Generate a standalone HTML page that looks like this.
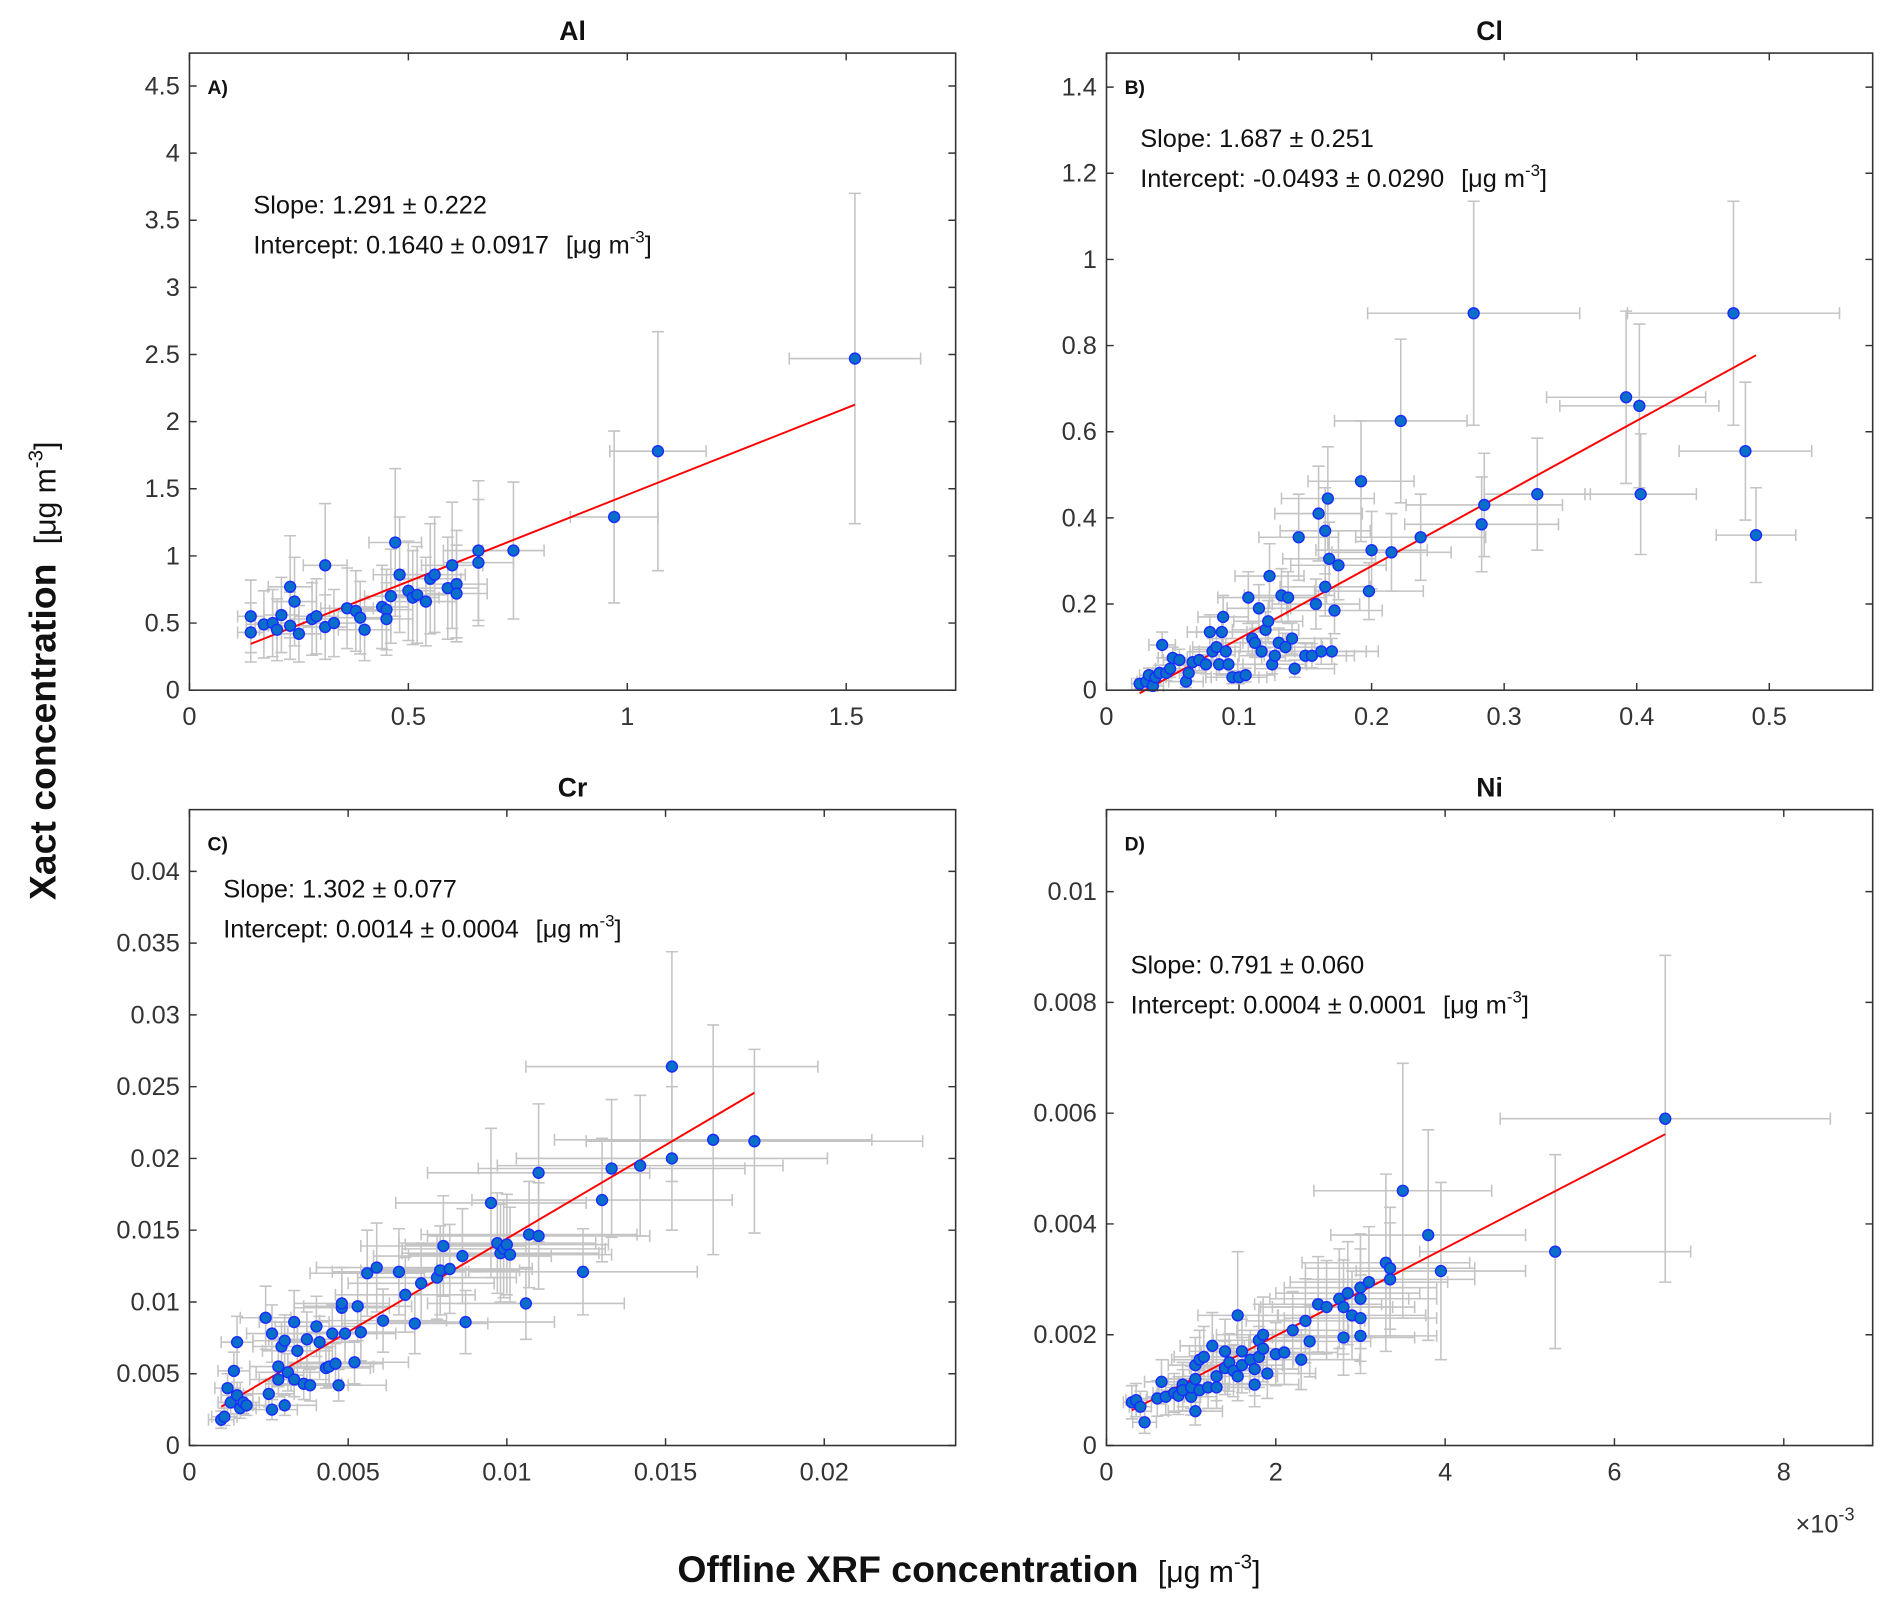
<!DOCTYPE html>
<html><head><meta charset="utf-8">
<style>
html,body{margin:0;padding:0;background:#fff;}
svg{display:block;}
text{font-family:"Liberation Sans",Arial,sans-serif;}
</style></head>
<body>
<svg id="fig" width="1892" height="1606" viewBox="0 0 1568 1331" xmlns="http://www.w3.org/2000/svg">
<rect width="1568" height="1331" fill="#fff"/>
<text transform="translate(46,556) rotate(-90)" text-anchor="middle" font-size="31" fill="#111"><tspan font-weight="bold">Xact concentration</tspan><tspan font-size="25" dx="16">[μg m</tspan><tspan font-size="17" dy="-11">-3</tspan><tspan font-size="25" dy="11">]</tspan></text>
<text x="803" y="1311" text-anchor="middle" font-size="31" fill="#111"><tspan font-weight="bold">Offline XRF concentration</tspan><tspan font-size="25" dx="16">[μg m</tspan><tspan font-size="17" dy="-11">-3</tspan><tspan font-size="25" dy="11">]</tspan></text>
<text x="1488" y="1270" font-size="21" fill="#333">×10<tspan font-size="15" dy="-10">-3</tspan></text>
</svg>
<script>
// Panel A (Al)
const alX=[0.14,0.14,0.17,0.19,0.20,0.21,0.23,0.23,0.24,0.25,0.28,0.29,0.31,0.31,0.33,0.36,0.38,0.39,0.40,0.44,0.45,0.45,0.46,0.47,0.48,0.50,0.51,0.52,0.54,0.55,0.56,0.59,0.60,0.61,0.61,0.66,0.66,0.74,0.97,1.07,1.52];
const alY=[0.55,0.43,0.49,0.50,0.45,0.56,0.48,0.77,0.66,0.42,0.53,0.55,0.93,0.47,0.50,0.61,0.59,0.54,0.45,0.62,0.60,0.53,0.70,1.10,0.86,0.74,0.69,0.71,0.66,0.83,0.86,0.76,0.93,0.79,0.72,1.04,0.95,1.04,1.29,1.78,2.47];
const alXe=[0.03,0.03,0.04,0.04,0.04,0.04,0.05,0.05,0.05,0.05,0.05,0.05,0.05,0.05,0.05,0.06,0.06,0.06,0.06,0.06,0.06,0.06,0.06,0.06,0.06,0.06,0.06,0.07,0.07,0.07,0.07,0.07,0.07,0.07,0.07,0.08,0.08,0.07,0.10,0.11,0.15];
const alYe=[0.27,0.22,0.25,0.25,0.23,0.28,0.25,0.38,0.33,0.21,0.27,0.28,0.46,0.24,0.25,0.30,0.30,0.27,0.23,0.31,0.30,0.27,0.35,0.55,0.43,0.37,0.35,0.36,0.33,0.41,0.43,0.38,0.47,0.40,0.36,0.52,0.47,0.51,0.64,0.89,1.23];
const alFit=[1.291,0.1640];
// Panel B (Cl)
const clX=[0.025,0.03,0.032,0.035,0.037,0.04,0.042,0.045,0.048,0.05,0.055,0.06,0.062,0.065,0.07,0.075,0.078,0.08,0.083,0.085,0.087,0.088,0.09,0.092,0.095,0.1,0.105,0.107,0.11,0.112,0.115,0.117,0.12,0.122,0.123,0.125,0.127,0.13,0.132,0.135,0.137,0.14,0.142,0.145,0.15,0.155,0.158,0.16,0.162,0.165,0.165,0.167,0.168,0.17,0.172,0.175,0.192,0.198,0.2,0.215,0.222,0.237,0.277,0.283,0.285,0.325,0.392,0.402,0.403,0.473,0.482,0.49];
const clY=[0.015,0.02,0.035,0.01,0.03,0.04,0.105,0.04,0.05,0.075,0.07,0.02,0.04,0.065,0.07,0.06,0.135,0.09,0.1,0.06,0.135,0.17,0.09,0.06,0.03,0.03,0.035,0.215,0.12,0.11,0.19,0.09,0.14,0.16,0.265,0.06,0.08,0.11,0.22,0.1,0.215,0.12,0.05,0.355,0.08,0.08,0.2,0.41,0.09,0.24,0.37,0.445,0.305,0.09,0.185,0.29,0.485,0.23,0.325,0.32,0.625,0.355,0.875,0.385,0.43,0.455,0.68,0.66,0.455,0.875,0.555,0.36];
const clXe=[0.006,0.007,0.007,0.008,0.008,0.009,0.01,0.01,0.011,0.011,0.012,0.013,0.013,0.014,0.015,0.016,0.017,0.017,0.018,0.018,0.019,0.019,0.02,0.02,0.02,0.021,0.022,0.023,0.023,0.024,0.024,0.025,0.025,0.026,0.026,0.026,0.027,0.027,0.028,0.028,0.029,0.029,0.03,0.03,0.031,0.032,0.033,0.033,0.034,0.034,0.034,0.035,0.035,0.035,0.036,0.036,0.04,0.041,0.042,0.045,0.05,0.049,0.08,0.058,0.059,0.04,0.06,0.06,0.042,0.08,0.05,0.03];
const clYe=[0.012,0.014,0.016,0.012,0.015,0.018,0.03,0.018,0.02,0.025,0.025,0.014,0.018,0.024,0.025,0.022,0.04,0.03,0.032,0.022,0.04,0.05,0.03,0.022,0.015,0.015,0.016,0.06,0.036,0.034,0.055,0.03,0.042,0.048,0.075,0.022,0.028,0.034,0.062,0.032,0.06,0.036,0.02,0.1,0.028,0.028,0.058,0.11,0.03,0.068,0.1,0.12,0.085,0.03,0.054,0.08,0.14,0.066,0.09,0.09,0.19,0.1,0.26,0.11,0.12,0.13,0.2,0.19,0.14,0.26,0.16,0.11];
const clFit=[1.687,-0.0493];
// Panel C (Cr)
const crX=[1.0,1.1,1.2,1.3,1.4,1.5,1.5,1.6,1.7,1.8,2.4,2.5,2.6,2.6,2.8,2.8,2.9,3.0,3.0,3.1,3.3,3.3,3.4,3.6,3.7,3.8,4.0,4.1,4.3,4.4,4.5,4.6,4.7,4.8,4.8,4.9,5.2,5.3,5.4,5.6,5.9,6.1,6.6,6.8,7.1,7.3,7.8,7.9,8.0,8.2,8.6,8.7,9.5,9.7,9.8,9.9,10.0,10.1,10.6,10.7,11.0,11.0,12.4,13.0,13.3,14.2,15.2,15.2,16.5,17.8].map(v=>v/1000);
const crY=[1.8,2.0,4.0,3.0,5.2,3.5,7.2,2.6,3.0,2.8,8.9,3.6,7.8,2.5,4.6,5.5,6.9,2.8,7.3,5.1,8.6,4.6,6.6,4.3,7.4,4.2,8.3,7.2,5.4,5.5,7.8,5.7,4.2,9.6,9.9,7.8,5.8,9.7,7.9,12.0,12.4,8.7,12.1,10.5,8.5,11.3,11.7,12.2,13.9,12.3,13.2,8.6,16.9,14.1,13.4,13.7,14.0,13.3,9.9,14.7,14.6,19.0,12.1,17.1,19.3,19.5,26.4,20.0,21.3,21.2].map(v=>v/1000);
const crXe=[0.4,0.4,0.4,0.4,0.5,0.5,0.5,0.5,0.5,0.6,0.8,0.8,0.8,0.8,0.9,0.9,0.9,1.0,1.0,1.0,1.1,1.1,1.1,1.2,1.2,1.2,1.3,1.3,1.4,1.4,1.4,1.5,1.5,1.5,1.5,1.6,1.7,1.7,1.7,1.8,1.9,2.0,2.1,2.2,2.3,2.3,2.5,2.5,2.6,2.6,2.8,2.8,3.0,3.1,3.1,3.2,3.2,3.2,3.1,3.4,3.5,3.5,3.6,4.1,4.2,4.5,4.6,4.9,5.0,5.3].map(v=>v/1000);
const crYe=[0.6,0.6,1.0,0.8,1.3,0.9,1.8,0.7,0.8,0.7,2.2,0.9,2.0,0.7,1.2,1.4,1.7,0.7,1.8,1.3,2.2,1.2,1.7,1.1,1.9,1.1,2.1,1.8,1.4,1.4,2.0,1.4,1.1,2.4,2.5,2.0,1.5,2.4,2.0,3.0,3.1,2.2,3.0,2.6,2.1,2.8,2.9,3.1,3.5,3.1,3.3,2.2,5.2,3.5,3.4,3.4,3.5,3.3,2.5,3.7,3.7,4.8,3.0,4.3,4.8,4.9,8.0,5.0,8.0,6.4].map(v=>v/1000);
const crFit=[1.302,0.0014];
// Panel D (Ni)
const niX=[0.3,0.35,0.4,0.45,0.6,0.65,0.7,0.8,0.85,0.9,0.9,1.0,1.0,1.05,1.05,1.05,1.1,1.1,1.15,1.2,1.25,1.3,1.3,1.4,1.4,1.45,1.5,1.55,1.55,1.6,1.6,1.7,1.75,1.75,1.8,1.8,1.85,1.85,1.9,2.0,2.1,2.2,2.3,2.35,2.4,2.5,2.6,2.75,2.8,2.8,2.85,2.9,3.0,3.0,3.0,3.0,3.1,3.3,3.35,3.35,3.5,3.8,3.95,5.3,6.6].map(v=>v/1000);
const niY=[0.78,0.82,0.7,0.42,0.85,1.15,0.88,0.95,0.9,1.1,1.0,0.88,1.05,0.62,1.45,1.2,1.55,1.0,1.6,1.05,1.8,1.25,1.05,1.4,1.7,1.5,1.35,1.25,2.35,1.7,1.45,1.55,1.38,1.1,1.6,1.9,1.75,2.0,1.3,1.65,1.68,2.08,1.55,2.25,1.88,2.55,2.5,2.65,2.5,1.95,2.75,2.35,2.85,2.65,2.3,1.98,2.95,3.3,3.0,3.2,4.6,3.8,3.15,3.5,5.9].map(v=>v/1000);
const niXe=[0.1,0.12,0.13,0.14,0.2,0.2,0.22,0.25,0.26,0.28,0.28,0.3,0.3,0.32,0.32,0.32,0.33,0.33,0.35,0.36,0.38,0.39,0.39,0.42,0.42,0.44,0.45,0.47,0.47,0.48,0.48,0.51,0.52,0.52,0.54,0.54,0.55,0.55,0.57,0.6,0.63,0.66,0.69,0.7,0.72,0.75,0.78,0.82,0.84,0.84,0.85,0.87,0.9,0.9,0.9,0.9,0.93,0.99,1.0,1.0,1.05,1.15,1.0,1.6,1.95].map(v=>v/1000);
const niYe=[0.3,0.3,0.28,0.2,0.32,0.4,0.33,0.35,0.34,0.4,0.37,0.33,0.38,0.25,0.5,0.42,0.53,0.37,0.55,0.38,0.6,0.44,0.38,0.48,0.58,0.52,0.47,0.44,1.15,0.58,0.5,0.53,0.48,0.4,0.55,0.65,0.6,0.68,0.45,0.57,0.58,0.7,0.54,0.76,0.64,0.86,0.84,0.9,0.85,0.68,0.93,0.8,0.97,0.9,0.78,0.68,1.0,1.6,1.02,1.1,2.3,1.9,1.6,1.75,2.95].map(v=>v/1000);
const niFit=[0.791,0.0004];

// tick labels
const alXTicks=[0,0.5,1,1.5], alXLabels=["0","0.5","1","1.5"];
const alYTicks=[0,0.5,1,1.5,2,2.5,3,3.5,4,4.5], alYLabels=["0","0.5","1","1.5","2","2.5","3","3.5","4","4.5"];
const clXTicks=[0,0.1,0.2,0.3,0.4,0.5], clXLabels=["0","0.1","0.2","0.3","0.4","0.5"];
const clYTicks=[0,0.2,0.4,0.6,0.8,1,1.2,1.4], clYLabels=["0","0.2","0.4","0.6","0.8","1","1.2","1.4"];
const crXTicks=[0,0.005,0.01,0.015,0.02], crXLabels=["0","0.005","0.01","0.015","0.02"];
const crYTicks=[0,0.005,0.01,0.015,0.02,0.025,0.03,0.035,0.04], crYLabels=["0","0.005","0.01","0.015","0.02","0.025","0.03","0.035","0.04"];
const niXTicks=[0,0.002,0.004,0.006,0.008], niXLabels=["0","2","4","6","8"];
const niYTicks=[0,0.002,0.004,0.006,0.008,0.01], niYLabels=["0","0.002","0.004","0.006","0.008","0.01"];

const NS="http://www.w3.org/2000/svg";
const svg=document.getElementById('fig');
function mk(tag,attrs,parent){const e=document.createElementNS(NS,tag);for(const k in attrs)e.setAttribute(k,attrs[k]);(parent||svg).appendChild(e);return e;}

const panels=[
 {id:'al',title:'Al',tag:'A)',box:[157,44,792,572],xd:[0,1.75],yd:[0,4.745],X:alX,Y:alY,Xe:alXe,Ye:alYe,fit:alFit,xt:alXTicks,xl:alXLabels,yt:alYTicks,yl:alYLabels,s:'Slope: 1.291 ± 0.222',i:'Intercept: 0.1640 ± 0.0917',tp:[210,177]},
 {id:'cl',title:'Cl',tag:'B)',box:[917,44,1552,572],xd:[0,0.578],yd:[0,1.479],X:clX,Y:clY,Xe:clXe,Ye:clYe,fit:clFit,xt:clXTicks,xl:clXLabels,yt:clYTicks,yl:clYLabels,s:'Slope: 1.687 ± 0.251',i:'Intercept: -0.0493 ± 0.0290',tp:[945,122]},
 {id:'cr',title:'Cr',tag:'C)',box:[157,671,792,1198],xd:[0,0.02414],yd:[0,0.0443],X:crX,Y:crY,Xe:crXe,Ye:crYe,fit:crFit,xt:crXTicks,xl:crXLabels,yt:crYTicks,yl:crYLabels,s:'Slope: 1.302 ± 0.077',i:'Intercept: 0.0014 ± 0.0004',tp:[185,744]},
 {id:'ni',title:'Ni',tag:'D)',box:[917,671,1552,1198],xd:[0,0.00905],yd:[0,0.01148],X:niX,Y:niY,Xe:niXe,Ye:niYe,fit:niFit,xt:niXTicks,xl:niXLabels,yt:niYTicks,yl:niYLabels,s:'Slope: 0.791 ± 0.060',i:'Intercept: 0.0004 ± 0.0001',tp:[937,807]}
];

panels.forEach(p=>{
 const [L,T,R,B]=p.box;
 const sx=v=>L+(v-p.xd[0])/(p.xd[1]-p.xd[0])*(R-L);
 const sy=v=>B-(v-p.yd[0])/(p.yd[1]-p.yd[0])*(B-T);
 const g=mk('g',{});
 
 
 const t=mk('text',{x:(L+R)/2,y:T-11,'text-anchor':'middle','font-size':22,'font-weight':'bold',fill:'#111'},g);
 
 
 t.textContent=p.title;
 p.xt.forEach((v,k)=>{
  const x=sx(v);
  const tk=mk('path',{d:`M${x},${B}V${B-6}M${x},${T}V${T+6}`,stroke:'#333','stroke-width':1.2},g);
  
  
  const lb=mk('text',{x:x,y:B+29,'text-anchor':'middle','font-size':21,fill:'#333'},g);
  
  
  lb.textContent=p.xl[k];
 });
 p.yt.forEach((v,k)=>{
  const y=sy(v);
  const tk=mk('path',{d:`M${L},${y}H${L+6}M${R},${y}H${R-6}`,stroke:'#333','stroke-width':1.2},g);
  
  
  const lb=mk('text',{x:L-8,y:y+7,'text-anchor':'end','font-size':21,fill:'#333'},g);
  
  
  lb.textContent=p.yl[k];
 });
 const eg=mk('g',{stroke:'#c4c4c4','stroke-width':1.3,fill:'none'},g);
 
 
 p.X.forEach((xv,k)=>{
  const x=sx(xv),y=sy(p.Y[k]);
  const x0=sx(xv-p.Xe[k]),x1=sx(xv+p.Xe[k]);
  const y0=sy(p.Y[k]-p.Ye[k]),y1=sy(p.Y[k]+p.Ye[k]);
  const e=mk('path',{d:`M${x0},${y}H${x1}M${x0},${y-5}V${y+5}M${x1},${y-5}V${y+5}M${x},${y0}V${y1}M${x-5},${y0}H${x+5}M${x-5},${y1}H${x+5}`},eg);
  
  
 });
 const xmin=Math.min(...p.X),xmax=Math.max(...p.X);
 const fl=mk('line',{x1:sx(xmin),y1:sy(p.fit[0]*xmin+p.fit[1]),x2:sx(xmax),y2:sy(p.fit[0]*xmax+p.fit[1]),stroke:'#ff0000','stroke-width':1.6},g);
 
 
 p.X.forEach((xv,k)=>{
  const c=mk('circle',{cx:sx(xv),cy:sy(p.Y[k]),r:4.5,fill:'#0a6fc8',stroke:'#1a2cff','stroke-width':1.2},g);
  
  
 });
 const bx=mk('rect',{x:L,y:T,width:R-L,height:B-T,fill:'none',stroke:'#333','stroke-width':1.3},g);
 
 
 const tg=mk('text',{x:L+15,y:T+34,'font-size':16,'font-weight':'bold',fill:'#111'},g);
 
 
 tg.textContent=p.tag;
 const st=mk('text',{x:p.tp[0],y:p.tp[1],'font-size':21,fill:'#111'},g);
 
 
 st.textContent=p.s;
 const it=mk('text',{x:p.tp[0],y:p.tp[1]+33,'font-size':21,fill:'#111'},g);
 
 
 it.innerHTML=p.i+'<tspan dx="14">[μg m</tspan><tspan font-size="14" dy="-9">-3</tspan><tspan dy="9">]</tspan>';
});
</script>
</body></html>
